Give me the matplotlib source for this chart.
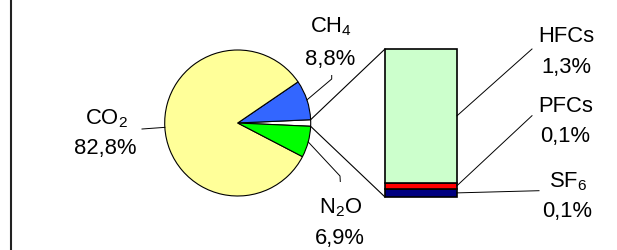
import matplotlib.pyplot as plt
import numpy as np

plt.rcParams['font.family'] = ['Liberation Sans', 'DejaVu Sans']
plt.rcParams['mathtext.fontset'] = 'custom'
plt.rcParams['mathtext.rm'] = 'Liberation Sans'
plt.rcParams['mathtext.default'] = 'regular'

# pie: "others" slice first, it is split out into the bar
pie_labels = ['Others', 'CH$_4$', 'CO$_2$', 'N$_2$O']
pie_values = [1.44, 8.8, 82.8, 6.9]
pie_colors = ['white', '#3366ff', '#ffff99', '#00ff00']

# bar of the "others" slice, bottom to top
bar_labels = ['SF$_6$', 'PFCs', 'HFCs']
bar_values = [0.08, 0.06, 1.3]
bar_colors = ['#000080', '#ff0000', '#ccffcc']


def fmt(v):
    return f'{v:.1f}%'.replace('.', ',')


W, H = 617, 251
fig = plt.figure(figsize=(W / 100, H / 100), dpi=100)
ax = fig.add_axes([0, 0, 1, 1])

cx, cy, r = 237.7, H - 124, 73
others = pie_values[0] / sum(pie_values) * 360
wedges, _ = ax.pie(pie_values, colors=pie_colors, startangle=-others / 2,
                   center=(cx, cy), radius=r,
                   wedgeprops=dict(edgecolor='black', linewidth=0.8))


def edge(theta, rr=r):
    t = np.deg2rad(theta)
    return cx + rr * np.cos(t), cy + rr * np.sin(t)


# stacked bar
bx, bw = 421, 72
b_bottom, b_top = H - 198, H - 50
scale = (b_top - b_bottom) / sum(bar_values)
heights = np.array(bar_values) * scale
bottoms = b_bottom + np.concatenate([[0], np.cumsum(heights)[:-1]])
ax.bar(bx, heights, bw, bottom=bottoms, color=bar_colors,
       edgecolor='black', linewidth=1.2)

# lines pie -> bar
w0 = wedges[0]
for th, yb in [(w0.theta2, b_top), (w0.theta1, b_bottom)]:
    x0, y0 = edge(th)
    ax.plot([x0, bx - bw / 2], [y0, yb], color='black', lw=0.8)

# pie labels: (name baseline pos, value baseline pos, leader points after the edge)
pie_lab_pos = {
    1: ((331.5, 32.5), (330, 64.5), [(331.7, 80), (331.7, 76.5)]),
    2: ((106.5, 124), (105.5, 154), [(142, 130)]),
    3: ((341, 213.5), (340, 244.5), [(340, 177), (340.3, 182.5)]),
}
for i, (pn, pv, pts) in pie_lab_pos.items():
    w = wedges[i]
    mid = (w.theta1 + w.theta2) / 2
    x0, y0 = edge(mid)
    xs = [x0] + [p[0] for p in pts]
    ys = [y0] + [H - p[1] for p in pts]
    ax.plot(xs, ys, color='black', lw=0.7)
    ax.text(pn[0], H - pn[1], pie_labels[i], ha='center', va='baseline', fontsize=15.8)
    ax.text(pv[0], H - pv[1], fmt(pie_values[i]), ha='center', va='baseline', fontsize=15.8)

# bar labels
bar_lab_pos = [
    ((568.5, 187.5), (567.5, 217.5), (539, 191.7)),
    ((566, 112), (565, 142), (532, 116.7)),
    ((566, 42.5), (566, 72.5), (532, 50)),
]
for i, (pn, pv, end) in enumerate(bar_lab_pos):
    ymid = bottoms[i] + heights[i] / 2
    ax.plot([bx + bw / 2, end[0]], [ymid, H - end[1]], color='black', lw=0.7)
    ax.text(pn[0], H - pn[1], bar_labels[i], ha='center', va='baseline', fontsize=15.8)
    ax.text(pv[0], H - pv[1], fmt(bar_values[i]), ha='center', va='baseline', fontsize=15.8)

ax.axvline(10.8, color='#222222', lw=1.5)

ax.set_xlim(0, W)
ax.set_ylim(0, H)
ax.set_aspect('auto')
ax.axis('off')

fig.savefig('out.png', dpi=100)
